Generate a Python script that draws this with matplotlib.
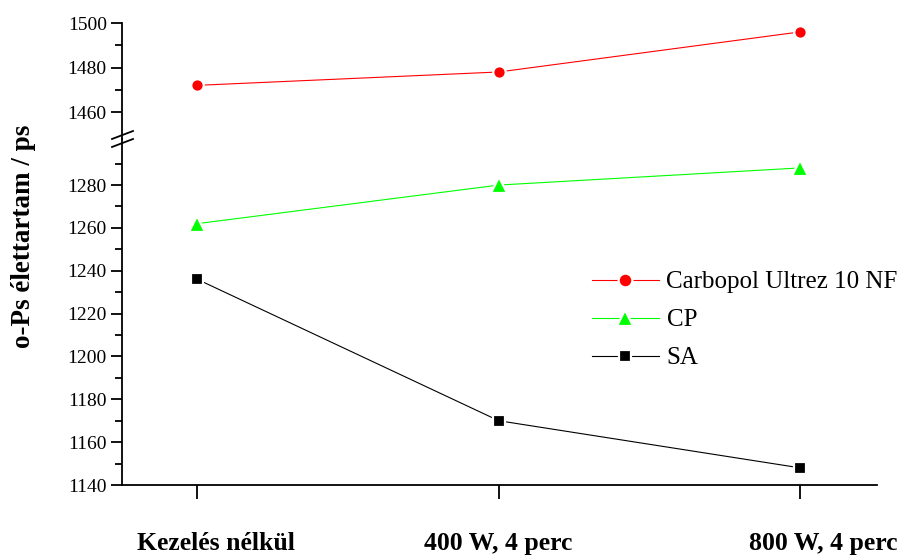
import matplotlib
matplotlib.use("Agg")
import matplotlib.pyplot as plt
import matplotlib.transforms as mtransforms
from matplotlib.lines import Line2D

categories = ["Kezelés nélkül", "400 W, 4 perc", "800 W, 4 perc"]
carbopol = [1472, 1478, 1496]
cp = [1262, 1280, 1288]
sa = [1236, 1170, 1148]

plt.rcParams['font.family'] = ['Liberation Serif', 'DejaVu Serif']

W, H = 911, 556
fig = plt.figure(figsize=(W/100, H/100), dpi=100)

def fx(px): return px / W
def fy(py): return 1 - py / H

left, right = 122, 877
top, joint, bottom = 23, 139, 485
ax_top = fig.add_axes([fx(left), fy(joint), fx(right-left), (joint-top)/H])
ax_bot = fig.add_axes([fx(left), fy(bottom), fx(right-left), (bottom-joint)/H])

x = list(range(len(categories)))
lw = 0.8
mew = 1.6
ax_top.plot(x, carbopol, color='#ff0000', lw=lw, marker='o', ms=9, mfc='#ff0000',
            mec='white', mew=mew, label='Carbopol Ultrez 10 NF')
ax_bot.plot(x, cp, color='#00ff00', lw=lw, marker='^', ms=11, mfc='#00ff00',
            mec='white', mew=mew, label='CP')
ax_bot.plot(x, sa, color='black', lw=lw, marker='s', ms=8.5, mfc='black',
            mec='white', mew=mew, label='SA')

for ax in (ax_top, ax_bot):
    ax.set_xlim(-0.25, 2.255)
    ax.spines['top'].set_visible(False)
    ax.spines['right'].set_visible(False)
    ax.spines['left'].set_linewidth(1.3)
    ax.tick_params(axis='y', which='major', direction='out', length=8, width=1.3,
                   labelsize=14, pad=3)
    ax.tick_params(axis='y', which='minor', direction='out', length=5, width=1.3)
    ax.patch.set_alpha(0)

ax_top.set_ylim(1447.9, 1500)
ax_top.set_yticks([1460, 1480, 1500])
ax_top.set_yticks([1470, 1490], minor=True)
ax_top.spines['bottom'].set_visible(False)
ax_top.tick_params(axis='x', which='both', bottom=False, labelbottom=False)

ax_bot.set_ylim(1140, 1301.5)
ax_bot.set_yticks(list(range(1140, 1281, 20)))
ax_bot.set_yticks(list(range(1150, 1300, 20)), minor=True)
ax_bot.spines['bottom'].set_linewidth(1.3)
ax_bot.set_xticks(x)
ax_bot.set_xticklabels(categories, fontsize=18.5, fontweight='bold')
ax_bot.tick_params(axis='x', direction='out', length=10, width=1.3, pad=24)

# the reference's category labels sit slightly right of their ticks
label_shift_px = [19, 0, 23]
for lab, dx in zip(ax_bot.get_xticklabels(), label_shift_px):
    lab.set_transform(lab.get_transform() +
                      mtransforms.ScaledTranslation(dx / 100, 0, fig.dpi_scale_trans))

# break marks
for dy in (-4, 4):
    fig.add_artist(Line2D([fx(112), fx(133)], [fy(joint+dy+4), fy(joint+dy-4)],
                          color='black', lw=1.3))

fig.text(fx(24), fy(236), 'o-Ps élettartam / ps', rotation=90, ha='center',
         va='center', fontsize=19.5, fontweight='bold')

handles = ax_top.get_legend_handles_labels()[0] + ax_bot.get_legend_handles_labels()[0]
labels = ['Carbopol Ultrez 10 NF', 'CP', 'SA']
fig.legend(handles, labels, loc='center left', bbox_to_anchor=(fx(574), fy(320)),
           frameon=False, fontsize=18, handlelength=2.7, handletextpad=0.3,
           labelspacing=0.62, borderpad=0.2, markerscale=1.1)

fig.savefig('out.png', dpi=100)
